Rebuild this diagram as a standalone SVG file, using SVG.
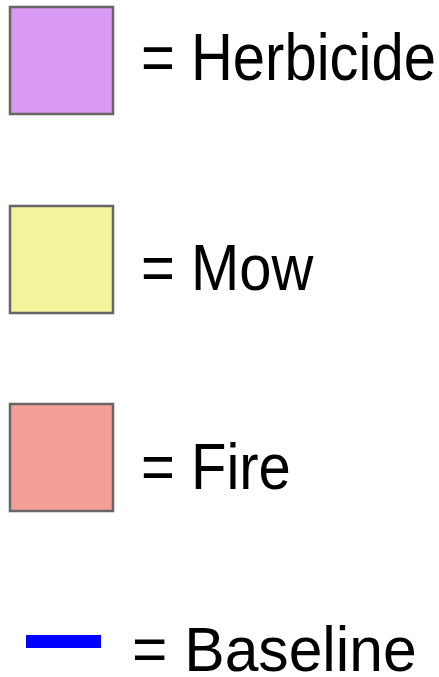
<svg xmlns="http://www.w3.org/2000/svg" width="439" height="677" viewBox="0 0 439 677">
  <style>
    .swatch { stroke: #666666; stroke-width: 2.5; }
    .label { font-family: "Liberation Sans", Arial, sans-serif; font-size: 58px; fill: #000000; }
  </style>
  <rect width="439" height="677" fill="#ffffff"/>
  <g id="herbicide">
    <rect class="swatch" x="10" y="7" width="103" height="107" fill="#DA9BF2"/>
    <text class="label" transform="translate(141,80) scale(1,1.14)">= Herbicide</text>
  </g>
  <g id="mow">
    <rect class="swatch" x="10" y="206" width="103" height="107" fill="#F4F49E"/>
    <text class="label" transform="translate(141,290) scale(1,1.12)">= Mow</text>
  </g>
  <g id="fire">
    <rect class="swatch" x="10" y="404" width="103" height="107" fill="#F4A099"/>
    <text class="label" transform="translate(141,489) scale(1,1.13)">= Fire</text>
  </g>
  <g id="baseline">
    <rect x="26" y="635" width="75" height="13" fill="#0000FF"/>
    <text class="label" transform="translate(132,670.5) scale(1.045,1.08)">= Baseline</text>
  </g>
</svg>
